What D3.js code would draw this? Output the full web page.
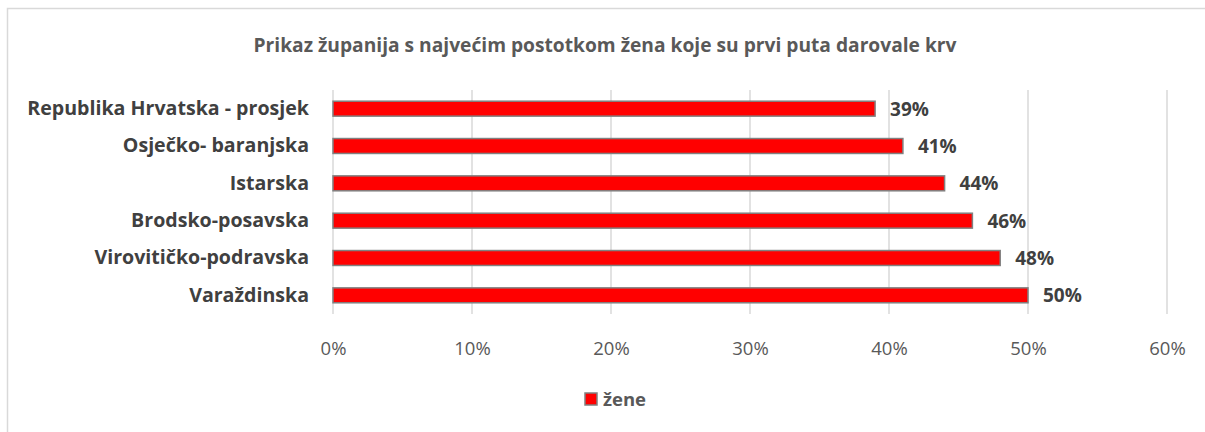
<!DOCTYPE html>
<html><head><meta charset="utf-8">
<script src="https://cdn.jsdelivr.net/npm/d3@7"></script>
<style>body{margin:0;background:#fff;}svg{display:block;font-family:"Open Sans",sans-serif;}</style>
</head><body>
<svg id="c" width="1205" height="432"></svg>
<script>
const categories = ["Republika Hrvatska - prosjek","Osječko- baranjska","Istarska","Brodsko-posavska","Virovitičko-podravska","Varaždinska"];
const values = [0.39,0.41,0.44,0.46,0.48,0.50];
const tickValues = [0,0.1,0.2,0.3,0.4,0.5,0.6];
const seriesName = "žene";
const title = "Prikaz županija s najvećim postotkom žena koje su prvi puta darovale krv";

const svg = d3.select("#c");
svg.append("rect").attr("x",7.5).attr("y",8.5).attr("width",1210).attr("height",440)
  .attr("fill","#fff").attr("stroke","#d9d9d9").attr("stroke-width",1.5);

const x = d3.scaleLinear().domain([0,0.6]).range([333,1167]);
const y = d3.scaleBand().domain(categories).range([90,314]).paddingInner(0.6).paddingOuter(0.3);

svg.append("text").attr("x",605).attr("y",52).attr("text-anchor","middle")
  .attr("font-size",19.2).attr("font-weight","bold").attr("fill","#595959").text(title);

const grid = svg.append("g");
grid.selectAll("line").data(tickValues).join("line")
  .attr("x1",d=>x(d)).attr("x2",d=>x(d)).attr("y1",90).attr("y2",314)
  .attr("stroke","#d9d9d9").attr("stroke-width",1.5);

const xAxis = d3.axisBottom(x).tickValues(tickValues).tickFormat(d3.format(".0%")).tickSize(0).tickPadding(0);
const gx = svg.append("g").attr("transform","translate(0,355)").call(xAxis);
gx.select(".domain").remove();
gx.selectAll("text").attr("font-size",18.5).attr("fill","#595959").attr("dy",0).attr("font-family","Open Sans, sans-serif");

const yAxis = d3.axisLeft(y).tickSize(0).tickPadding(0);
const gy = svg.append("g").attr("transform","translate(309,0)").call(yAxis);
gy.select(".domain").remove();
gy.selectAll("text").attr("font-size",19.6).attr("font-weight","bold").attr("fill","#404040").attr("font-family","Open Sans, sans-serif");

svg.append("g").selectAll("rect").data(categories).join("rect")
  .attr("x",x(0)).attr("y",d=>y(d)).attr("width",(d,i)=>x(values[i])-x(0)).attr("height",y.bandwidth())
  .attr("fill","#ff0000").attr("stroke","#808080").attr("stroke-width",1.5);

svg.append("g").selectAll("text").data(categories).join("text")
  .attr("x",(d,i)=>x(values[i])+15).attr("y",d=>y(d)+y.bandwidth()/2).attr("dy","0.36em")
  .attr("font-size",19).attr("font-weight","bold").attr("fill","#404040")
  .text((d,i)=>d3.format(".0%")(values[i]));

const lg = svg.append("g");
lg.append("rect").attr("x",585).attr("y",393).attr("width",12).attr("height",12)
  .attr("fill","#ff0000").attr("stroke","#808080").attr("stroke-width",1.5);
lg.append("text").attr("x",603).attr("y",399).attr("dy","0.36em").attr("font-size",18.5).attr("font-weight","bold").attr("fill","#595959").text(seriesName);
</script>
</body></html>
